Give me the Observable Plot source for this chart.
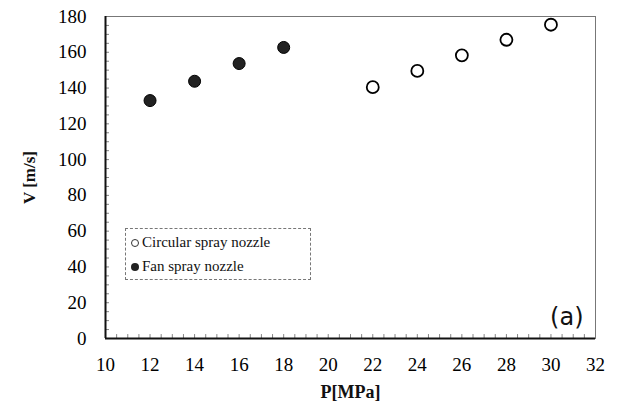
<!DOCTYPE html>
<html><head><meta charset="utf-8">
<script src="https://cdn.jsdelivr.net/npm/d3@7"></script>
<script src="https://cdn.jsdelivr.net/npm/@observablehq/plot@0.6"></script>
<style>
body{margin:0;background:#fff;}
#wrap{position:relative;width:618px;height:405px;}
.legend{position:absolute;left:125px;top:228px;width:186px;height:52px;border:1px dashed #777;box-sizing:border-box;font-family:"Liberation Serif",serif;font-size:15px;color:#111;}
.legend div{position:absolute;left:5px;white-space:nowrap;}
.sym{display:inline-block;width:8px;height:8px;border-radius:50%;margin-right:3px;vertical-align:0px;box-sizing:border-box;}
</style></head><body>
<div id="wrap"></div>
<script>
const circularP = [22, 24, 26, 28, 30];
const circularV = [140.5, 149.6, 158.3, 167, 175.4];
const fanP = [12, 14, 16, 18];
const fanV = [133, 143.8, 153.7, 162.7];
const xTicks = [10,12,14,16,18,20,22,24,26,28,30,32];
const yTicks = [0,20,40,60,80,100,120,140,160,180];

const circular = circularP.map((p,i)=>({P:p,V:circularV[i]}));
const fan = fanP.map((p,i)=>({P:p,V:fanV[i]}));
const minorX = d3.range(10.5, 32, 0.5);
const minorY = d3.range(5, 180, 5);
const serif = '"Liberation Serif", "Times New Roman", serif';

const chart = Plot.plot({
  width: 618, height: 405,
  marginLeft: 105, marginRight: 23, marginTop: 16, marginBottom: 67,
  style: {background: "#fff", color: "#111"},
  x: {domain: [10, 32], label: null},
  y: {domain: [0, 180], label: null},
  marks: [
    Plot.frame({stroke: "#777", strokeWidth: 1}),
    Plot.ruleX(minorX, {x: d=>d, y1: 0, y2: 2.2, stroke: "#666", strokeWidth: 0.8}),
    Plot.ruleY(minorY, {y: d=>d, x1: 10, x2: 10.18, stroke: "#666", strokeWidth: 0.8}),
    Plot.ruleX([10], {stroke: "#111", strokeWidth: 2}),
    Plot.ruleY([0], {stroke: "#111", strokeWidth: 2}),
    Plot.dot(fan, {x: "P", y: "V", r: 6, fill: "#222", stroke: "#000", strokeWidth: 1}),
    Plot.dot(circular, {x: "P", y: "V", r: 6, fill: "#fff", stroke: "#000", strokeWidth: 1.8}),
    Plot.text(["(a)"], {frameAnchor: "bottom-right", dx: -12, dy: -14, fontFamily: "DejaVu Sans, sans-serif", fontSize: 24, fill: "#111"}),
    Plot.axisX({ticks: xTicks, tickSize: 0, tickPadding: 19, fontFamily: serif, fontSize: 19, fill: "#000", label: null}),
    Plot.axisY({ticks: yTicks, tickSize: 0, tickPadding: 19, fontFamily: serif, fontSize: 19, fill: "#000", label: null}),
    Plot.axisX({ticks: [], label: "P[MPa]", labelAnchor: "center", labelOffset: 59, labelArrow: "none", fontFamily: serif, fontSize: 18, fontWeight: "bold", dx: -11}),
    Plot.axisY({ticks: [], label: "V [m/s]", labelAnchor: "center", labelOffset: 83, labelArrow: "none", fontFamily: serif, fontSize: 17, fontWeight: "bold", dy: 6})
  ]
});
document.getElementById("wrap").appendChild(chart);
const lg = document.createElement("div");
lg.className = "legend";
lg.innerHTML = '<div style="top:5px"><span class="sym" style="border:1px solid #333;background:#fff"></span>Circular spray nozzle</div>' +
               '<div style="top:29px"><span class="sym" style="background:#222"></span>Fan spray nozzle</div>';
document.getElementById("wrap").appendChild(lg);
</script>
</body></html>
